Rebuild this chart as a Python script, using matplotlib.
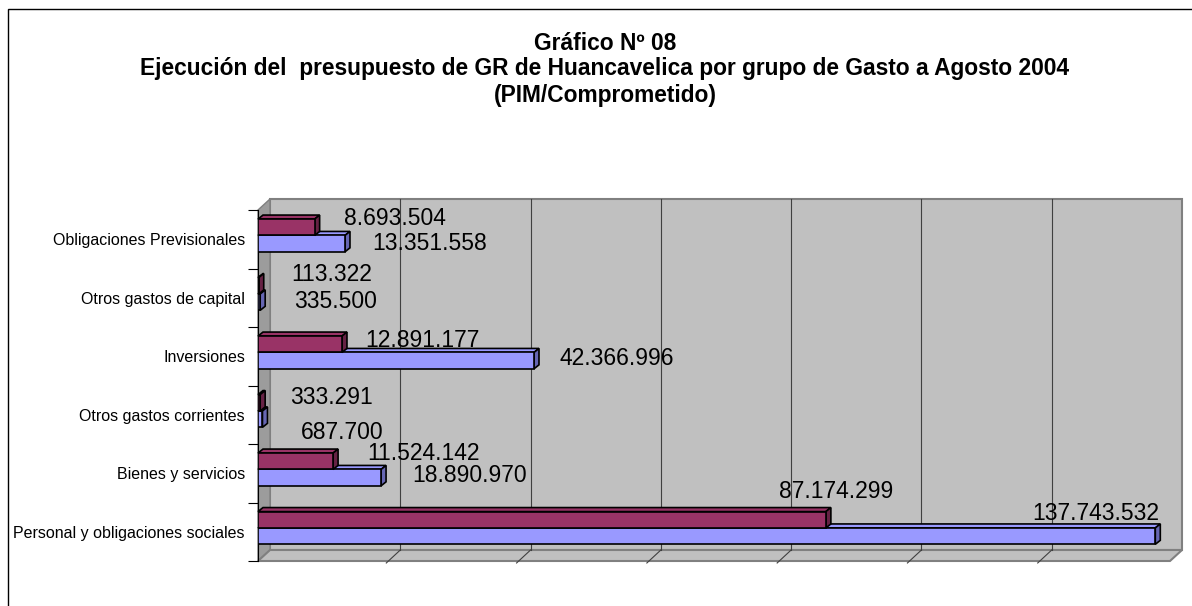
import matplotlib
matplotlib.use('Agg')
import matplotlib.pyplot as plt
import matplotlib.transforms as mtransforms
from matplotlib.patches import Polygon, Rectangle
import numpy as np

categorias = ['Personal y obligaciones sociales', 'Bienes y servicios',
              'Otros gastos corrientes', 'Inversiones',
              'Otros gastos de capital', 'Obligaciones Previsionales']
pim = [137743532, 18890970, 687700, 42366996, 335500, 13351558]
comprometido = [87174299, 11524142, 333291, 12891177, 113322, 8693504]

# where Excel dropped each label, nudge in pixels (dx, dy up) from bar end
off_pim = [(-60, 23), (89, 2), (80, -13), (83, 2), (75, 1), (85, 0)]
off_comp = [(10, 28), (90, 8), (71, 5), (80, 4), (73, 11), (80, 9)]

plt.rcParams['font.family'] = ['Liberation Sans', 'DejaVu Sans']

W, H = 1192, 606
fig = plt.figure(figsize=(W / 100, H / 100), dpi=100)
x0, x1, ytop, ybot = 258, 1170, 210, 561
ax = fig.add_axes([x0 / W, (H - ybot) / H, (x1 - x0) / W, (ybot - ytop) / H])
ax.set_xlim(0, 140e6)
ax.set_ylim(-0.5, 5.5)
ax.set_facecolor('none')

d = np.array([12, 11])   # wall depth (px)
bd = np.array([5, 4])    # bar depth (px)
ident = mtransforms.IdentityTransform()


def px(x, y):
    return ax.transData.transform((x, y))


def poly(pts, **kw):
    ax.add_patch(Polygon(pts, closed=True, transform=ident, clip_on=False, **kw))


# walls and floor
bl, br, tl, tr = px(0, -0.5), px(140e6, -0.5), px(0, 5.5), px(140e6, 5.5)
poly([bl + d, br + d, tr + d, tl + d], fc='#C0C0C0', ec='#808080', lw=1.5, zorder=0.5)
poly([bl, tl, tl + d, bl + d], fc='#9C9C9C', ec='#808080', lw=1, zorder=0.6)
poly([bl, br, br + d, bl + d], fc='#C0C0C0', ec='#808080', lw=1.5, zorder=0.6)

for g in np.arange(20e6, 140e6, 20e6):
    p, q = px(g, -0.5), px(g, 5.5)
    ax.plot([p[0] + d[0], q[0] + d[0]], [p[1] + d[1], q[1] + d[1]],
            color='#404040', lw=0.8, transform=ident, clip_on=False, zorder=0.7)
    ax.plot([p[0] + d[0], p[0] - 2], [p[1] + d[1], p[1] - 2],
            color='#404040', lw=0.8, transform=ident, clip_on=False, zorder=0.7)

# bars
h, sh = 0.28, 0.065
ypos = np.arange(len(categorias))
y_pim = ypos - h / 2 + sh
y_comp = ypos + h / 2 + sh

bars_pim = ax.barh(y_pim, pim, height=h, color='#9999FF', edgecolor='black', lw=1.2)
bars_comp = ax.barh(y_comp, comprometido, height=h, color='#993366', edgecolor='black', lw=1.2)


def caja(v, yc, col, dark, z):
    b = px(0, yc - h / 2)
    t = px(v, yc + h / 2)
    poly([(b[0], t[1]), (t[0], t[1]), (t[0] + bd[0], t[1] + bd[1]), (b[0] + bd[0], t[1] + bd[1])],
         fc=col, ec='black', lw=1.2, zorder=z)
    poly([(t[0], b[1]), (t[0], t[1]), (t[0] + bd[0], t[1] + bd[1]), (t[0] + bd[0], b[1] + bd[1])],
         fc=dark, ec='black', lw=1.2, zorder=z)


for i in range(len(categorias)):
    z = 2 + i * 0.1
    caja(pim[i], y_pim[i], '#9999FF', '#6666B3', z)
    bars_pim[i].set_zorder(z + 0.01)
    caja(comprometido[i], y_comp[i], '#993366', '#662244', z + 0.05)
    bars_comp[i].set_zorder(z + 0.06)


def fmt(v):
    return f'{v:,}'.replace(',', '.')


for i in range(len(categorias)):
    ax.annotate(fmt(pim[i]), xy=(pim[i], y_pim[i]), xytext=off_pim[i],
                textcoords='offset pixels', ha='center', va='center',
                fontsize=16.5, zorder=10, annotation_clip=False)
    ax.annotate(fmt(comprometido[i]), xy=(comprometido[i], y_comp[i]), xytext=off_comp[i],
                textcoords='offset pixels', ha='center', va='center',
                fontsize=16.5, zorder=10, annotation_clip=False)

# axis
ax.set_xticks([])
ax.set_yticks(np.arange(-0.5, 6, 1))
ax.set_yticklabels([])
ax.set_yticks(ypos, minor=True)
ax.set_yticklabels(categorias, minor=True, fontsize=11.5)
ax.tick_params(axis='y', which='major', length=7.2, width=0.8, direction='out')
ax.tick_params(axis='y', which='minor', length=0, pad=9.4)
for s in ['top', 'right', 'bottom']:
    ax.spines[s].set_visible(False)
ax.spines['left'].set_zorder(1)
ax.spines['left'].set_linewidth(0.8)

# title
t = ['Gráfico Nº 08',
     'Ejecución del  presupuesto de GR de Huancavelica por grupo de Gasto a Agosto 2004',
     '(PIM/Comprometido)']
for k, s in enumerate(t):
    fig.text(605 / W, 1 - (43 + 26 * k) / H, s, ha='center', va='center',
             fontsize=16.4, fontweight='bold')

fig.add_artist(Rectangle((8 / W, -0.1), 1.2, 1.1 - 9 / H, transform=fig.transFigure,
                         fill=False, ec='black', lw=1))

fig.savefig('out.png', dpi=100)
